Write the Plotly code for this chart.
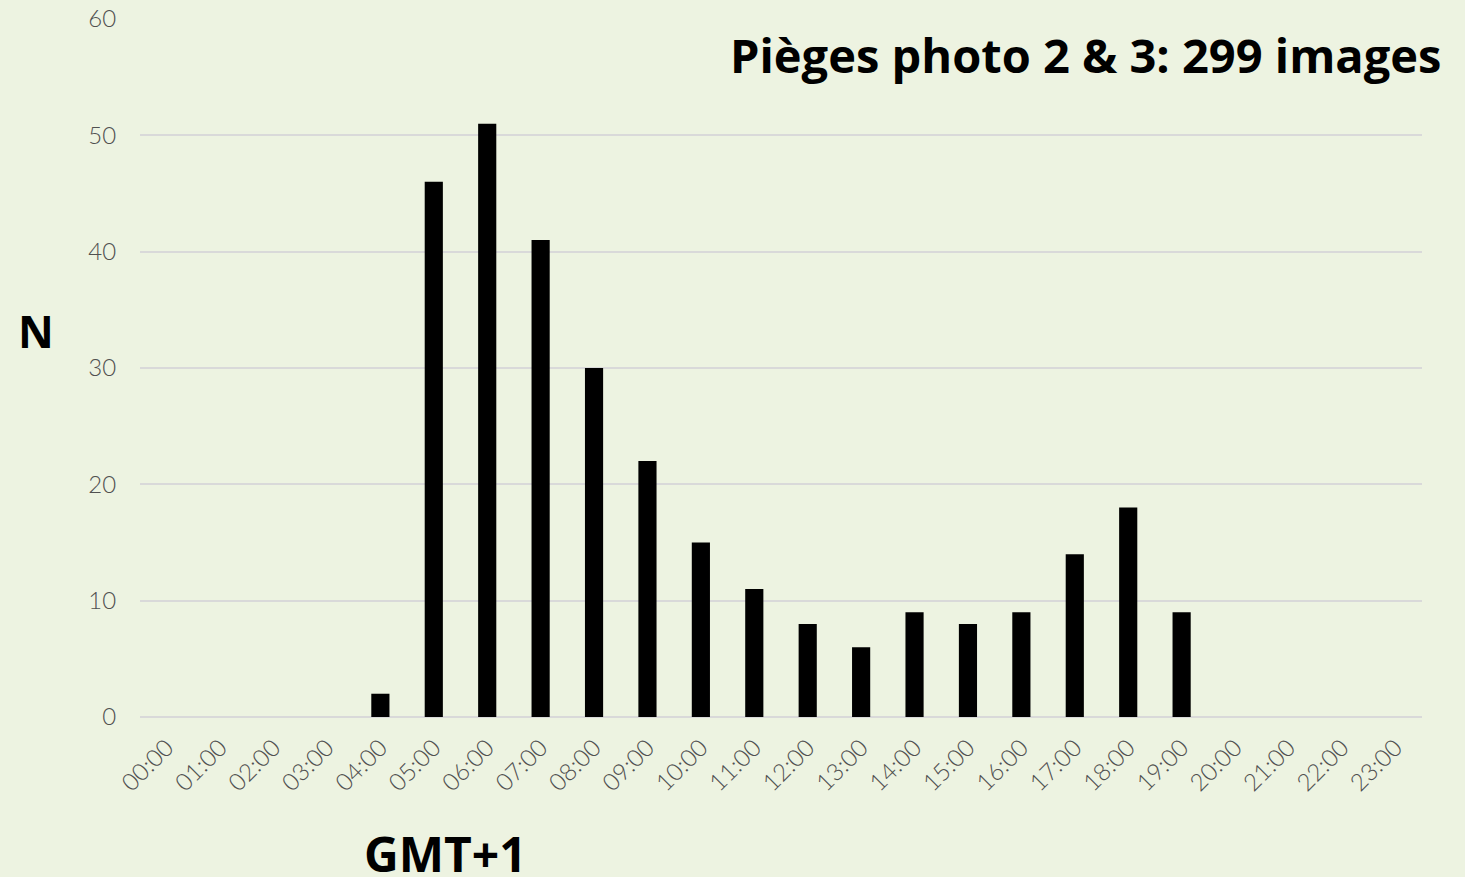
import plotly.graph_objects as go

hours = [f"{h:02d}:00" for h in range(24)]
counts = [0, 0, 0, 0, 2, 46, 51, 41, 30, 22, 15, 11, 8, 6, 9, 8, 9, 14, 18, 9, 0, 0, 0, 0]
title_text = "Pièges photo 2 & 3: 299 images"
y_label = "N"
x_label = "GMT+1"

bg = "#EDF3E1"
tick_font = dict(size=24, family="Lato Light, Lato", color="#505050")

fig = go.Figure(go.Bar(x=hours, y=counts, marker=dict(color="#000000", line=dict(width=0)), width=0.34))

fig.update_layout(
    width=1465, height=877,
    paper_bgcolor=bg, plot_bgcolor=bg,
    margin=dict(l=140, r=43, t=19, b=160),
    showlegend=False,
    font=dict(family="Lato", color="#595959"),
)
fig.update_xaxes(
    type="category", tickangle=-45, tickfont=tick_font,
    showgrid=False, showline=False, ticks="outside", ticklen=6, tickcolor="rgba(0,0,0,0)", zeroline=False,
    automargin=False,
)
fig.update_yaxes(
    range=[0, 60], dtick=10, tickfont=tick_font,
    showgrid=True, gridcolor="#D9D9D9", gridwidth=2, zeroline=True, zerolinecolor="#D9D9D9", zerolinewidth=2,
    ticks="outside", ticklen=18, tickcolor="rgba(0,0,0,0)", showline=False, automargin=False,
)
fig.add_annotation(text=f"<b>{title_text}</b>", xref="paper", yref="paper", x=1.016, y=0.949,
                   xanchor="right", yanchor="middle", showarrow=False,
                   font=dict(size=47, family="Open Sans", color="#000000"))
fig.add_annotation(text=f"<b>{y_label}</b>", xref="paper", yref="paper", x=-0.081, y=0.553,
                   xanchor="center", yanchor="middle", showarrow=False,
                   font=dict(size=44, family="Open Sans", color="#000000"))
fig.add_annotation(text=f"<b>{x_label}</b>", xref="paper", yref="paper", x=0.238, y=-0.195,
                   xanchor="center", yanchor="middle", showarrow=False,
                   font=dict(size=48, family="Open Sans", color="#000000"))

fig.write_html("out.html", config={"displayModeBar": False},
               post_script="document.body.style.margin='0px';document.body.style.overflow='hidden';")
